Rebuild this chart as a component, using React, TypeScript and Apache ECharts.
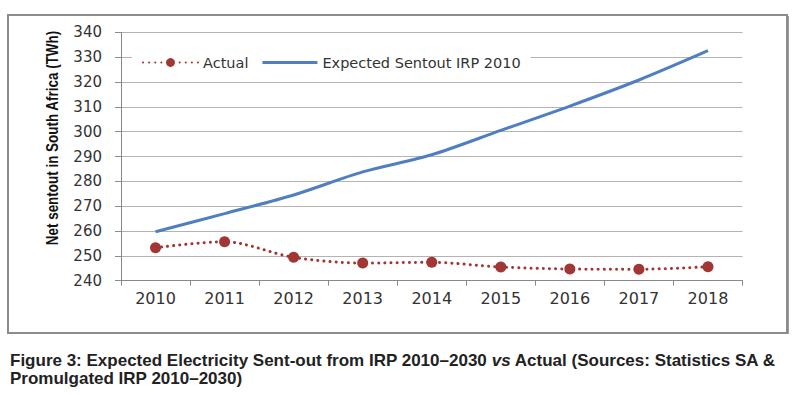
import React, { useEffect, useRef } from "react";
import * as echarts from "echarts";

const years = ["2010", "2011", "2012", "2013", "2014", "2015", "2016", "2017", "2018"];
const actual = [253.3, 255.7, 249.4, 247.1, 247.4, 245.5, 244.7, 244.6, 245.6];
const expected = [259.7, 267.0, 274.5, 283.8, 290.7, 300.5, 310.3, 320.8, 332.6];
const seriesNames = ["Actual", "Expected Sentout IRP 2010"];
const yAxisTitle = "Net sentout in South Africa (TWh)";
const captionLine1a = "Figure 3: Expected Electricity Sent-out from IRP 2010\u20132030 ";
const captionVs = "vs";
const captionLine1b = " Actual (Sources: Statistics SA &";
const captionLine2 = "Promulgated IRP 2010\u20132030)";

export default function App() {
  const ref = useRef<HTMLDivElement>(null);
  useEffect(() => {
    if (!ref.current) return;
    const chart = echarts.init(ref.current, null, { renderer: "svg" });
    const labelFont = "'DejaVu Sans', Verdana, sans-serif";
    const capFont = "'Liberation Sans', Arial, sans-serif";
    chart.setOption({
      animation: false,
      backgroundColor: "#ffffff",
      grid: { left: 121, right: 55.5, top: 32.3, bottom: 113.3, containLabel: false },
      legend: {
        left: 132,
        top: 46,
        padding: [9, 10, 10, 10],
        backgroundColor: "#ffffff",
        itemWidth: 55,
        itemHeight: 11,
        itemGap: 14,
        symbolKeepAspect: true,
        data: [
          { name: seriesNames[0] },
          { name: seriesNames[1], icon: "path://M0 0H56V3H0Z" },
        ],
        textStyle: { fontFamily: labelFont, fontSize: 14.5, color: "#333333" },
      },
      xAxis: {
        type: "category",
        data: years,
        boundaryGap: true,
        axisLine: { lineStyle: { color: "#8a8a8a", width: 1 } },
        axisTick: { show: true, length: 5, lineStyle: { color: "#8a8a8a" } },
        axisLabel: { margin: 10, fontFamily: labelFont, fontSize: 16, color: "#333333" },
        splitLine: { show: false },
      },
      yAxis: {
        type: "value",
        min: 240,
        max: 340,
        interval: 10,
        axisLine: { show: true, lineStyle: { color: "#8a8a8a", width: 1 } },
        axisTick: { show: true, length: 6, lineStyle: { color: "#8a8a8a" } },
        axisLabel: { margin: 19, fontFamily: labelFont, fontSize: 15, color: "#333333" },
        splitLine: { show: true, lineStyle: { color: "#b3b3b3", width: 1 } },
      },
      series: [
        {
          name: seriesNames[0],
          type: "line",
          data: actual,
          smooth: 0.3,
          symbol: "circle",
          symbolSize: 11,
          itemStyle: { color: "#a23634" },
          lineStyle: { color: "#a23634", width: 3, type: [0.1, 6], cap: "round" },
          z: 3,
        },
        {
          name: seriesNames[1],
          type: "line",
          data: expected,
          smooth: 0.3,
          showSymbol: false,
          symbol: "none",
          itemStyle: { color: "#4f7fc0" },
          lineStyle: { color: "#4f7fc0", width: 3 },
          z: 2,
        },
      ],
      graphic: [
        {
          type: "rect",
          shape: { x: 8, y: 15, width: 779, height: 318 },
          style: { fill: "none", stroke: "#8c8c8c", lineWidth: 2 },
          silent: true,
          z: -1,
        },
        {
          type: "line",
          shape: { x1: 788.5, y1: 16, x2: 788.5, y2: 334 },
          style: { stroke: "#9a9a9a", lineWidth: 1 },
          silent: true,
          z: -1,
        },
        {
          type: "text",
          x: 53,
          y: 138,
          rotation: Math.PI / 2,
          scaleX: 0.84,
          style: {
            text: yAxisTitle,
            fontFamily: capFont,
            fontWeight: "bold",
            fontSize: 16,
            fill: "#111111",
            align: "center",
            verticalAlign: "middle",
          },
        },
        {
          type: "text",
          x: 10,
          y: 352,
          style: {
            text:
              "{a|" + captionLine1a + "}{b|" + captionVs + "}{a|" + captionLine1b + "}\n{a|" + captionLine2 + "}",
            fontFamily: capFont,
            fontWeight: "bold",
            fontSize: 17,
            lineHeight: 17.5,
            fill: "#222222",
            verticalAlign: "top",
            align: "left",
            rich: {
              a: { fontFamily: capFont, fontWeight: "bold", fontSize: 17, lineHeight: 17.5, fill: "#222222" },
              b: {
                fontFamily: capFont,
                fontWeight: "bold",
                fontStyle: "italic",
                fontSize: 17,
                lineHeight: 17.5,
                fill: "#222222",
              },
            },
          },
        },
      ],
    });
    return () => chart.dispose();
  }, []);
  return (
    <div
      ref={ref}
      style={{ position: "absolute", left: 0, top: 0, width: 798, height: 394, background: "#fff" }}
    />
  );
}
